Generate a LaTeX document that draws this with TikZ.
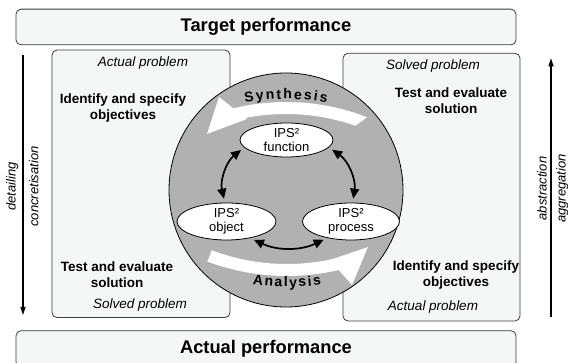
\documentclass[tikz,border=0pt]{standalone}
\usepackage{fontspec}
\setmainfont{Liberation Sans}
\usetikzlibrary{arrows.meta,shapes.geometric}
\definecolor{boxfill}{HTML}{F5F7F6}
\definecolor{boxline}{HTML}{3C3C3C}
\definecolor{disc}{HTML}{B1B1B1}
\begin{document}
\begin{tikzpicture}[x=1pt,y=1pt,
  panel/.style={draw=boxline, fill=boxfill, rounded corners=5pt, line width=0.8pt, inner sep=0pt},
  bigtxt/.style={font=\fontsize{18.3}{21}\selectfont\bfseries},
  hd/.style={font=\fontsize{13.5}{16}\selectfont\bfseries, align=center, inner sep=0pt},
  st/.style={font=\fontsize{13.5}{16}\selectfont\itshape, inner sep=0pt},
  side/.style={font=\fontsize{13}{15}\selectfont\itshape, rotate=90, anchor=base, inner sep=0pt},
  ipsnode/.style={ellipse, draw=black, fill=white, line width=0.8pt, inner sep=0pt},
  ipslab/.style={font=\fontsize{13}{14.5}\selectfont, align=center, inner sep=0pt},
  link/.style={{Triangle[length=10pt,width=9pt]}-{Triangle[length=10pt,width=9pt]}, line width=1.7pt, shorten >=4pt, shorten <=4pt},
  dirarrow/.style={-{Triangle[length=8pt,width=5pt]}, line width=1.2pt},
  arcl/.style={font=\fontsize{14}{16}\selectfont\bfseries, anchor=base, inner sep=0pt}
]
\useasboundingbox (0,0) rectangle (568,363);

% performance bars
\node[panel, minimum width=500, minimum height=35.7, bigtxt] (top) at (266,336) {Target performance};
\node[panel, minimum width=500, minimum height=36.3, bigtxt] (bottom) at (266,14.15) {Actual performance};

% side panels
\node[panel, minimum width=178, minimum height=267.5] (lbox) at (141,179.2) {};
\node[panel, minimum width=177, minimum height=267.7] (rbox) at (431.5,175.85) {};

% left panel texts
\node[st] (la) at (143,300) {Actual problem};
\node[hd] (lid) at (123,254.5) {Identify and specify\\objectives};
\node[hd] (lte) at (117,88.5) {Test and evaluate\\solution};
\node[st] (lsp) at (140,58) {Solved problem};

% right panel texts
\node[st] (rsp) at (433,297) {Solved problem};
\node[hd] (rte) at (451,262.5) {Test and evaluate\\solution};
\node[hd] (rid) at (456,88) {Identify and specify\\objectives};
\node[st] (ra) at (433,56) {Actual problem};

% disc
\node[circle, draw=black, fill=disc, minimum size=234, inner sep=0pt, line width=0.8pt] (disc) at (286,173) {};

\coordinate (sc) at (286,38);
\coordinate (ac) at (287,313);

% synthesis band
\fill[white] ([shift={(68.7:223)}]sc) arc[start angle=68.7, end angle=104, radius=223]
  -- ([shift={(104:211)}]sc) arc[start angle=104, end angle=70.8, radius=211] -- cycle;
\fill[white] (219,266) -- (207,229) -- (247,244) -- cycle;

% analysis band
\fill[white] ([shift={(249.4:226)}]ac) arc[start angle=249.4, end angle=285, radius=226]
  -- ([shift={(285:214)}]ac) arc[start angle=285, end angle=249.4, radius=214] -- cycle;
\fill[white] (330,103) -- (368,116) -- (352,78) -- cycle;

% curved labels
\foreach \ch/\off [count=\i] in {S/-36.38,y/-25.82,n/-15.65,t/-7.05,h/1.55,e/11.72,s/21.5,i/29.33,s/37.17}{
  \pgfmathsetmacro\ang{90-\off/226*57.2958}
  \node[arcl, rotate=\ang-90] (syn\i) at ([shift={(\ang:226)}]sc) {\ch};
}
\foreach \ch/\off [count=\i] in {A/-29.33,n/-18.4,a/-8.63,l/-1.2,y/6.24,s/15.62,i/23.05,s/30.49}{
  \pgfmathsetmacro\ang{270+\off/237*57.2958}
  \node[arcl, rotate=\ang-270] (ana\i) at ([shift={(\ang:237)}]ac) {\ch};
}

% IPS2 ellipses
\node[ipsnode, minimum width=93, minimum height=34, label={[ipslab]center:IPS²\\function}] (fn) at (286.5,223) {};
\node[ipsnode, minimum width=99, minimum height=37, label={[ipslab]center:IPS²\\object}] (obj) at (226.5,141.5) {};
\node[ipsnode, minimum width=97, minimum height=37, label={[ipslab]center:IPS²\\process}] (proc) at (351,141.5) {};

\draw[link] (fn.190) to[bend right=32] (obj.95);
\draw[link] (fn.350) to[bend left=32] (proc.85);
\draw[link] (obj.325) to[bend right=25] (proc.215);

% side arrows
\coordinate (lt) at (23,308);
\coordinate (lb) at (23,48);
\draw[dirarrow] (lt) -- (lb);
\coordinate (rb) at (551,46.3);
\coordinate (rt) at (551,304.7);
\draw[dirarrow] (rb) -- (rt);

\node[side] (det) at (15.6,176.5) {detailing};
\node[side] (conc) at (38.3,176.5) {concretisation};
\node[side] (abst) at (546.7,174.5) {abstraction};
\node[side] (aggr) at (565.6,174.5) {aggregation};
\end{tikzpicture}
\end{document}
